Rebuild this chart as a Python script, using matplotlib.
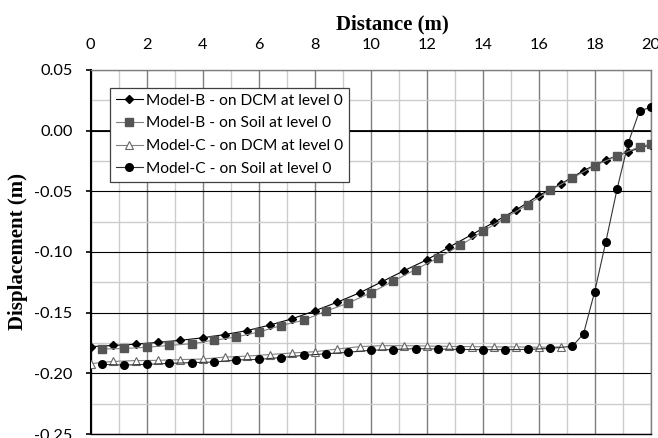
import numpy as np
import matplotlib
matplotlib.use("Agg")
import matplotlib.pyplot as plt
from matplotlib.ticker import MultipleLocator, FormatStrFormatter

# ---------------- data ----------------
x_b_dcm = [0.0, 0.8, 1.6, 2.4, 3.2, 4.0, 4.8, 5.6, 6.4, 7.2, 8.0, 8.8, 9.6,
           10.4, 11.2, 12.0, 12.8, 13.6, 14.4, 15.2, 16.0, 16.8, 17.6, 18.4, 19.2, 20.0]
y_b_dcm = [-0.178, -0.177, -0.176, -0.1745, -0.1728, -0.1707, -0.168, -0.1647, -0.1602,
           -0.155, -0.1485, -0.1414, -0.1337, -0.1245, -0.1153, -0.1065, -0.096, -0.0858,
           -0.0756, -0.0652, -0.0535, -0.0438, -0.0329, -0.0241, -0.0173, -0.0115]

x_b_soil = [0.4, 1.2, 2.0, 2.8, 3.6, 4.4, 5.2, 6.0, 6.8, 7.6, 8.4, 9.2, 10.0,
            10.8, 11.6, 12.4, 13.2, 14.0, 14.8, 15.6, 16.4, 17.2, 18.0, 18.8, 19.6, 20.0]
y_b_soil = [-0.180, -0.1795, -0.1785, -0.177, -0.1756, -0.1728, -0.170, -0.166, -0.1606,
            -0.1562, -0.1488, -0.142, -0.1337, -0.1241, -0.1145, -0.1049, -0.0946, -0.083,
            -0.072, -0.061, -0.0493, -0.0391, -0.0288, -0.0208, -0.0132, -0.0112]

x_c_dcm = [0.0, 0.8, 1.6, 2.4, 3.2, 4.0, 4.8, 5.6, 6.4, 7.2, 8.0, 8.8, 9.6,
           10.4, 11.2, 12.0, 12.8, 13.6, 14.4, 15.2, 16.0, 16.8]
y_c_dcm = [-0.192, -0.1902, -0.1895, -0.1893, -0.1887, -0.1882, -0.1866, -0.1858, -0.1845,
           -0.1832, -0.1822, -0.180, -0.178, -0.1772, -0.1772, -0.1775, -0.1778, -0.178,
           -0.1782, -0.1782, -0.1785, -0.1782]

x_c_soil = [0.4, 1.2, 2.0, 2.8, 3.6, 4.4, 5.2, 6.0, 6.8, 7.6, 8.4, 9.2, 10.0,
            10.8, 11.6, 12.4, 13.2, 14.0, 14.8, 15.6, 16.4, 17.2, 17.6, 18.0, 18.4,
            18.8, 19.2, 19.6, 20.0]
y_c_soil = [-0.1926, -0.1932, -0.1926, -0.1918, -0.1912, -0.1907, -0.189, -0.1885, -0.187,
            -0.1852, -0.1839, -0.1826, -0.181, -0.1804, -0.1796, -0.180, -0.1803, -0.1805,
            -0.1805, -0.1803, -0.1795, -0.1777, -0.1675, -0.1326, -0.0914, -0.048, -0.0099,
            0.0162, 0.0193]

labels = ["Model-B - on DCM at level 0", "Model-B - on Soil at level 0",
          "Model-C - on DCM at level 0", "Model-C - on Soil at level 0"]

x_label = "Distance (m)"
y_label = "Displacement (m)"

# ---------------- figure ----------------
plt.rcParams['font.family'] = ['Lato', 'DejaVu Sans']
fig = plt.figure(figsize=(6.58, 4.38), dpi=100)
ax = fig.add_axes([90.7 / 658, 1 - 434 / 438, 560 / 658, 364 / 438])

ax.set_xlim(0, 20)
ax.set_ylim(-0.25, 0.05)

ax.plot(x_b_dcm, y_b_dcm, color='black', lw=0.8, marker='D', ms=4.0,
        mfc='black', mec='black', label=labels[0], zorder=4)
ax.plot(x_b_soil, y_b_soil, color='#808080', lw=0.8, marker='s', ms=5.2,
        mfc='#555555', mec='#555555', label=labels[1], zorder=5)
ax.plot(x_c_dcm, y_c_dcm, color='#808080', lw=0.8, marker='^', ms=5.5,
        mfc='white', mec='#666666', mew=0.8, label=labels[2], zorder=4)
ax.plot(x_c_soil, y_c_soil, color='#333333', lw=0.8, marker='o', ms=5.5,
        mfc='black', mec='black', label=labels[3], zorder=5)

# grid
ax.xaxis.set_major_locator(MultipleLocator(2))
ax.xaxis.set_minor_locator(MultipleLocator(1))
ax.yaxis.set_major_locator(MultipleLocator(0.05))
ax.yaxis.set_minor_locator(MultipleLocator(0.025))
ax.yaxis.set_major_formatter(FormatStrFormatter('%.2f'))
ax.set_axisbelow(True)
ax.grid(axis='x', which='major', color='#7f7f7f', lw=1.0)
ax.grid(axis='x', which='minor', color='#cccccc', lw=1.0)
ax.grid(axis='y', which='major', color='black', lw=0.8)
ax.grid(axis='y', which='minor', color='#cccccc', lw=1.0)
ax.axhline(0, color='black', lw=1.3, zorder=2)

# spines
ax.spines['left'].set_color('black')
ax.spines['left'].set_linewidth(1.5)
ax.spines['bottom'].set_color('black')
ax.spines['bottom'].set_linewidth(1.0)
ax.spines['top'].set_color('#7f7f7f')
ax.spines['top'].set_linewidth(1.0)
ax.spines['right'].set_color('#7f7f7f')
ax.spines['right'].set_linewidth(1.0)

# ticks
ax.xaxis.tick_top()
ax.xaxis.set_label_position('top')
ax.tick_params(axis='x', which='both', length=0, pad=13, labelsize=11.8, colors='black')
ax.tick_params(axis='y', which='major', length=3.6, width=1.2, direction='out',
               pad=9.5, labelsize=11.8)
ax.tick_params(axis='y', which='minor', length=0)
ax.tick_params(axis='y', which='both', right=False)

serif_bold = dict(family=['Liberation Serif', 'DejaVu Serif'], weight='bold', size=15)
ax.set_xlabel(x_label, fontdict=serif_bold)
ax.set_ylabel(y_label, fontdict=serif_bold)
ax.xaxis.set_label_coords((392 - 90.7) / 560, (434 - 29) / 364)
ax.yaxis.set_label_coords((28 - 90.7) / 560, 0.5)

leg = ax.legend(loc='upper left', bbox_to_anchor=((110 - 90.7) / 560, (434 - 87.7) / 364),
                borderaxespad=0, fancybox=False, framealpha=1, edgecolor='#404040',
                fontsize=11.2, handlelength=1.7, handletextpad=0.2, labelspacing=0.55,
                borderpad=0.4)
leg.get_frame().set_linewidth(0.9)
leg.set_zorder(10)

fig.savefig('out.png', dpi=100)
